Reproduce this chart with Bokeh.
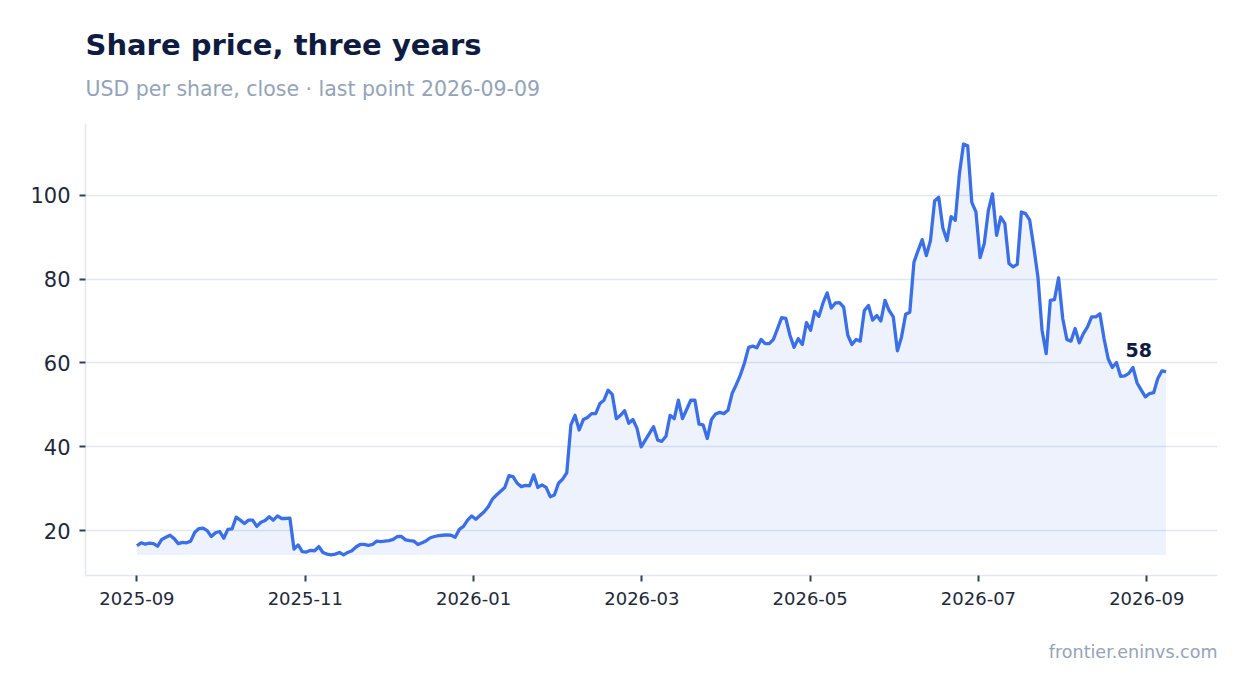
import pandas as pd
from bokeh.core.properties import value
from bokeh.embed import file_html
from bokeh.models import ColumnDataSource, DatetimeTickFormatter, FixedTicker, Title
from bokeh.plotting import figure
from bokeh.resources import INLINE

# closing prices
first_day = "2025-09-01"
last_day = "2026-09-09"
close = [
    16.4, 17.1, 16.8, 17.0, 16.9, 16.3, 17.9, 18.4, 18.9, 18.1,
    16.9, 17.2, 17.1, 17.5, 19.6, 20.5, 20.6, 20.0, 18.6, 19.5,
    19.8, 18.2, 20.3, 20.4, 23.2, 22.5, 21.7, 22.5, 22.5, 21.0,
    22.0, 22.4, 23.3, 22.5, 23.5, 22.9, 22.9, 23.0, 15.6, 16.6,
    15.0, 14.9, 15.3, 15.2, 16.2, 14.8, 14.4, 14.2, 14.4, 14.8,
    14.2, 14.8, 15.2, 16.1, 16.7, 16.7, 16.5, 16.7, 17.5, 17.4,
    17.5, 17.6, 17.9, 18.6, 18.6, 17.8, 17.6, 17.5, 16.7, 17.1,
    17.6, 18.3, 18.6, 18.8, 18.9, 19.0, 18.9, 18.4, 20.3, 21.0,
    22.5, 23.5, 22.7,
    23.6, 24.5, 25.7, 27.5, 28.5, 29.4, 30.3, 33.1, 32.9, 31.3,
    30.5, 30.8, 30.7, 33.3, 30.3, 30.9, 30.3, 28.1, 28.5, 31.3,
    32.3, 33.8, 45.2, 47.5, 44.0, 46.5, 47.0, 47.9, 47.9, 50.3,
    51.1, 53.5, 52.5, 46.7, 47.5, 48.6, 45.6, 46.5, 44.4, 40.0,
    41.6, 43.2, 44.8, 41.6, 41.3, 42.5, 47.5, 46.7, 51.1, 46.7,
    48.9, 51.1, 51.1, 45.4, 45.2, 42.0, 46.5, 47.8, 48.2, 47.9,
    48.7, 52.7, 54.8, 57.1, 60.0,
    63.7, 64.0, 63.6, 65.6, 64.6, 64.6, 65.6, 68.2, 70.8, 70.6,
    66.6, 63.7, 65.8, 64.4, 69.6, 67.8, 72.3, 71.1, 74.3, 76.7,
    73.1, 74.3, 74.4, 73.3, 66.6, 64.4, 65.6, 65.2,
    72.5, 73.7, 70.2, 71.3, 70.0, 74.9, 72.5, 71.0, 62.9, 66.2,
    71.6, 72.1, 84.0, 86.8, 89.4, 85.6, 89.2, 98.6, 99.5, 92.2,
    89.2, 94.9, 94.0, 105.1, 112.2, 111.8, 98.3, 96.0, 85.1, 88.4,
    96.3, 100.3, 90.4, 94.8,
    93.2, 83.7, 82.9, 83.5, 96.0, 95.6, 94.1, 87.6, 80.5, 67.8,
    62.2, 74.9, 75.1, 80.3, 70.6, 65.6, 65.2, 68.2, 64.8, 67.0,
    68.6, 71.0, 71.0, 71.7, 65.8, 61.0, 58.9, 60.1, 56.8, 56.9,
    57.5, 58.9, 55.2, 53.5, 51.9, 52.7, 52.9, 56.3, 58.1, 57.9,
]

# x ticks: every 61 days from the first day
tick_dates = pd.date_range(first_day, periods=7, freq="61D")

BLUE = "#3b6fe8"
NAVY = "#0f1c3f"
MUTED = "#94a3b8"
GRID = "#e2e8f0"
FONT = "DejaVu Sans"

dates = pd.date_range(first_day, last_day, periods=len(close))
base = min(close)
src = ColumnDataSource(data=dict(date=dates, close=close, base=[base] * len(close)))

p = figure(width=1230, height=693, x_axis_type="datetime", output_backend="svg",
           toolbar_location=None, tools="", min_border_left=85, min_border_right=13,
           min_border_top=123, min_border_bottom=118, outline_line_color=None)

p.varea(x="date", y1="base", y2="close", source=src, fill_color=BLUE, fill_alpha=0.09)
p.line(x="date", y="close", source=src, line_color=BLUE, line_width=3.3, line_join="round")

last = ColumnDataSource(data=dict(date=[dates[-1]], close=[close[-1]], label=[f"{close[-1]:.0f}"]))
p.text(x="date", y="close", text="label", source=last, text_font=value(FONT),
       text_font_style="bold", text_font_size="19px", text_color=NAVY,
       text_align="right", text_baseline="bottom", x_offset=-14, y_offset=-15)

p.add_layout(Title(text=f"USD per share, close \u00b7 last point {last_day}", text_font=FONT,
                   text_font_size="20.5px", text_font_style="normal", text_color=MUTED,
                   standoff=46), "above")
p.add_layout(Title(text="Share price, three years", text_font=FONT, text_font_size="29px",
                   text_font_style="bold", text_color=NAVY, standoff=-20), "above")
p.add_layout(Title(text="frontier.eninvs.com", text_font=FONT, text_font_size="17.5px",
                   text_font_style="normal", text_color=MUTED, align="right",
                   standoff=64), "below")

p.xaxis.ticker = FixedTicker(ticks=[t.timestamp() * 1000 for t in tick_dates])
p.xaxis.formatter = DatetimeTickFormatter(months="%Y-%m", days="%Y-%m")
p.xgrid.grid_line_color = None
p.ygrid.grid_line_color = GRID
p.ygrid.grid_line_width = 1.5

p.axis.axis_line_color = GRID
p.axis.axis_line_width = 1.5
p.axis.major_tick_line_color = "#334155"
p.axis.major_tick_line_width = 2
p.axis.major_tick_in = 0
p.axis.major_tick_out = 6
p.axis.minor_tick_line_color = None
p.axis.major_label_text_font = FONT
p.axis.major_label_text_color = "#1e293b"
p.xaxis.major_label_text_font_size = "18px"
p.xaxis.major_label_standoff = 10
p.yaxis.major_label_text_font_size = "21px"
p.yaxis.major_label_standoff = 9

open("out.html", "w").write(file_html(p, INLINE))
